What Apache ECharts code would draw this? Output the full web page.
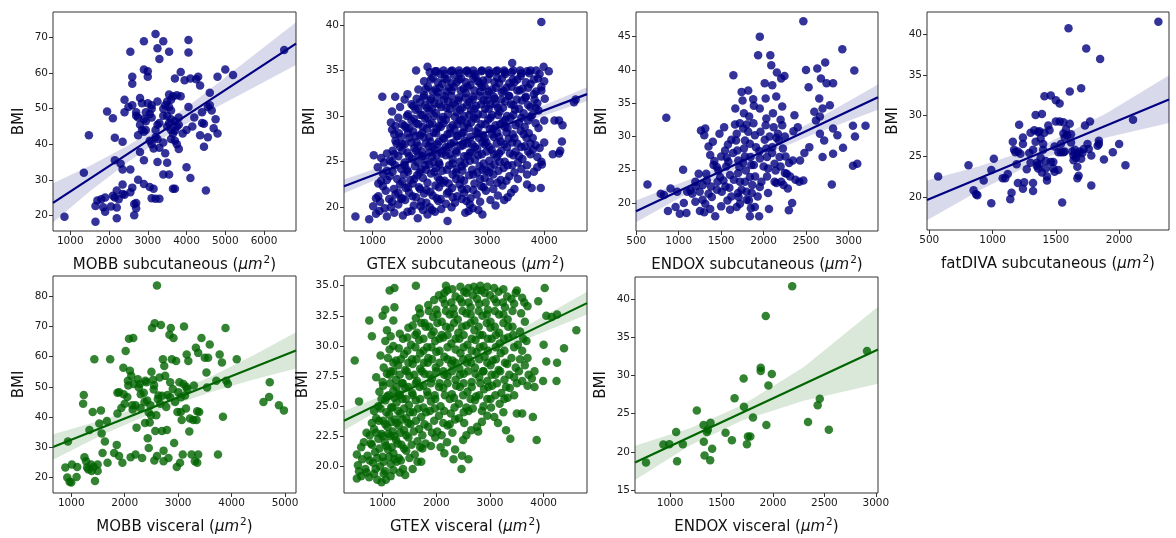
<!DOCTYPE html>
<html><head><meta charset="utf-8">
<script src="https://cdn.jsdelivr.net/npm/echarts@6/dist/echarts.min.js"></script>
<style>html,body{margin:0;padding:0;background:#fff}#c{width:1176px;height:538px}</style>
</head><body><div id="c"></div>
<script>
// ---------------- data ----------------
const mobbSub = [[3200,71],[2900,69],[3400,69],[4050,69.3],[3250,67],[2550,66],[3550,66],[4050,65.8],[3300,64],
[2600,59],[2600,57],[2900,61],[3000,60.5],[3000,59],[3850,60.3],[3700,58.5],[3950,58],[4100,58.5],[4300,59],[4250,58.3],[4350,56.5],[5000,61],[5200,59.5],[4800,59],[6520,66.5],
[2400,52.5],[2500,50.5],[2800,53],[2850,51.5],[3000,51.5],[3100,51],[3250,52],[3500,52],[3550,54],[3650,53.5],[3750,53.8],[3450,51],[3550,50.5],[3600,49.5],[3100,50],[2950,49],[3100,47.5],[3050,48.5],[2700,48],[2750,47.5],[2950,46.5],[3500,48],[3600,47],[3550,46],[3700,46.5],[3750,45],[3800,47.5],[4050,50.5],[4200,47.5],[4400,49],[4600,54.5],[4600,51],[4550,50.5],[4650,49.5],[4750,47],[4400,46],[4450,45.8],[4700,44.5],[4800,43],[4550,42],[4350,42.5],[4450,39.3],[4000,44],[4150,45],[3900,43],
[1950,49.2],[2100,47.3],[2400,49],[1480,42.5],[2150,41.8],[2350,40.7],[2800,45.5],[2850,44],[2750,42.5],[2900,43.5],[2950,44],[3050,41],[3200,44],[3100,40],[3250,41.5],[3150,38.8],[3300,39],[3450,37.5],[3650,43],[3700,41],[3600,41.5],[3750,40],[3800,38.7],[2800,37.8],[2900,35.5],[3250,35],[3500,34.8],[3400,31.5],[3550,31.5],[3650,27.5],[3700,27.5],[4000,33.5],[4100,30.5],[4500,27],
[2150,35.5],[2300,34.5],[2350,32.9],[2550,32.9],[1350,32],[2750,30],[2900,28.8],[3050,28],[3150,27.5],[3100,24.8],[3200,24.7],[3300,24.7],[2350,28.7],[2400,25.8],[2550,26.5],[2600,27.8],[2700,23.5],[2650,23.2],[2700,22],[2650,20],[2200,27],[2100,25.5],[2150,25],[2250,24.5],[2050,22.5],[1900,25],[1800,24.5],[1700,24.2],[1650,22.6],[1650,18.2],[1850,22.3],[1900,21],[2200,19.2],[2200,22.2],[2350,26],[850,19.6],
[3300,46],[3400,48],[3500,45],[3600,44],[3700,43.8],[3200,42],[3400,40.5],[3250,45.5],[2900,47],[3600,52.5],[3400,50],[2600,51],[2700,49],[3850,53.5],[3800,45.5]];

const gtexSub = [[1060,19.3],[1250,19.0],[1380,19.4],[1530,19.1],[1680,19.6],[1790,18.8],[1880,19.7],[1960,19.2],[2090,19.5],[2200,19.8],[2310,18.5],[2620,19.4],[2750,19.9],[2850,19.7],[2920,19.2],[700,19.0],[940,18.7],
[1010,20.1],[1130,20.6],[1210,19.9],[1450,20.3],[1570,20.8],[1720,20.2],[1850,20.6],[2000,20.0],[2150,20.7],[2280,20.4],[2440,20.5],[2560,20.9],[2700,20.3],[3060,20.8],[3150,20.2],
[1100,21.2],[1290,20.9],[1400,21.4],[1520,21.0],[1640,21.6],[1760,21.1],[1900,21.5],[2050,21.3],[2190,20.9],[2330,21.7],[2480,21.2],[2600,21.6],[2710,21.0],[2820,21.4],[2980,21.8],[3190,21.3],[3360,21.1],
[1180,22.3],[1370,22.0],[1480,22.5],[1580,22.1],[1700,22.6],[1810,22.2],[1940,21.9],[2100,22.4],[2230,22.7],[2390,22.1],[2520,22.5],[2650,22.0],[2780,22.6],[2900,22.3],[3050,22.8],[3270,22.4],[3480,22.0],[3780,22.1],[3940,22.1],
[1150,22.9],[1300,23.4],[1430,23.1],[1550,23.6],[1660,23.0],[1780,23.5],[1880,23.2],[2020,23.7],[2140,23.3],[2260,22.9],[2400,23.6],[2540,23.1],[2690,23.5],[2830,23.8],[2960,23.2],[3110,23.6],[3240,23.0],[3390,23.4],[3540,23.1],
[1090,24.4],[1250,24.0],[1390,24.6],[1500,24.2],[1620,23.9],[1740,24.5],[1850,24.1],[1990,24.7],[2110,24.3],[2220,24.0],[2340,24.6],[2470,24.2],[2610,24.8],[2740,24.1],[2870,24.5],[2990,24.0],[3130,24.7],[3290,24.3],[3440,24.6],[3600,24.2],[3820,23.9],[3960,24.7],
[1020,25.7],[1150,25.4],[1300,25.1],[1450,25.6],[1560,24.9],[1690,25.3],[1800,25.8],[1920,25.2],[2040,25.5],[2160,24.9],[2280,25.7],[2400,25.3],[2530,25.0],[2660,25.6],[2790,25.2],[2910,25.8],[3040,25.1],[3170,25.5],[3310,25.0],[3460,25.7],[3620,25.3],[3760,25.8],[3950,25.0],
[1350,26.2],[1480,26.6],[1610,26.0],[1730,26.5],[1860,26.1],[1980,26.7],[2090,26.3],[2210,25.9],[2330,26.6],[2460,26.2],[2580,26.8],[2700,26.0],[2830,26.4],[2960,26.9],[3080,26.3],[3210,25.9],[3350,26.6],[3500,26.1],[3660,26.7],[3800,26.3],[4150,25.8],[4260,25.9],[4280,26.2],
[1400,27.3],[1520,26.9],[1640,27.6],[1770,27.1],[1890,27.7],[2010,27.2],[2130,26.9],[2250,27.5],[2370,27.0],[2490,27.8],[2610,27.3],[2740,26.9],[2860,27.6],[2990,27.1],[3120,27.7],[3240,27.2],[3380,27.5],[3530,27.0],[3690,27.6],[3850,26.8],[4000,27.1],[4310,27.2],
[1340,28.5],[1460,28.1],[1590,28.7],[1710,28.3],[1830,27.9],[1950,28.6],[2070,28.2],[2190,28.8],[2310,28.0],[2430,28.5],[2560,28.1],[2680,28.7],[2800,28.3],[2930,27.9],[3050,28.6],[3180,28.2],[3310,28.8],[3450,28.0],[3590,28.4],[3730,28.1],[3900,28.7],
[1320,29.3],[1560,28.9],[1680,29.5],[1800,29.1],[1920,29.7],[2040,29.2],[2160,28.9],[2280,29.6],[2400,29.0],[2520,29.5],[2650,29.2],[2770,29.8],[2900,29.1],[3020,29.6],[3150,29.0],[3280,29.4],[3410,29.8],[3560,29.2],[3720,29.5],[4180,29.5],[4260,29.5],[4320,29.0],
[1340,30.5],[1620,30.2],[1750,30.7],[1870,30.1],[1990,30.6],[2110,30.3],[2230,29.9],[2350,30.8],[2470,30.4],[2600,30.0],[2720,30.6],[2840,30.2],[2970,30.8],[3090,30.1],[3220,30.5],[3350,30.0],[3490,30.7],[3640,30.3],[3790,30.1],[3900,30.6],
[1710,31.1],[1830,31.5],[1950,30.9],[2080,31.4],[2200,31.0],[2320,31.6],[2440,31.2],[2570,30.9],[2690,31.5],[2810,31.1],[2940,31.7],[3060,31.3],[3190,30.9],[3320,31.6],[3460,31.2],[3610,31.7],[3760,31.0],[3880,31.4],[4520,31.5],[4550,31.8],
[1170,32.1],[1395,32.1],[1610,32.4],[1900,32.3],[2020,31.9],[2140,32.6],[2260,32.2],[2380,32.8],[2510,32.0],[2630,32.5],[2750,32.1],[2880,32.7],[3000,32.3],[3130,31.9],[3260,32.6],[3390,32.2],[3530,32.8],[3670,32.0],[3820,32.4],[3950,32.8],
[1970,33.2],[2100,32.9],[2220,33.5],[2340,33.1],[2470,33.7],[2590,33.0],[2710,33.4],[2840,33.8],[2960,33.2],[3090,32.9],[3210,33.6],[3340,33.1],[3480,33.7],[3620,33.0],[3760,33.5],[3950,33.2],
[2050,34.2],[2180,34.6],[2300,34.0],[2420,34.5],[2550,34.1],[2680,34.7],[2800,34.3],[2930,33.9],[3050,34.6],[3180,34.2],[3310,34.8],[3450,34.0],[3590,34.4],[3740,34.7],[3890,34.1],
[1760,35.0],[1960,35.4],[2000,34.8],[2090,34.9],[2240,35.0],[2370,34.9],[2510,35.0],[2640,34.9],[2760,35.0],[2900,34.9],[3030,35.0],[3160,34.9],[3300,35.0],[3430,34.8],[3580,35.0],[3700,34.9],[3860,35.0],[4080,34.9],[3990,35.4],[3440,35.8],[3950,40.3],
[1120,19.6],[1320,20.0],[1610,19.5],[1840,20.1],[2040,19.7],[2380,20.0],[2680,19.6],
[1060,21.0],[1340,20.6],[1500,20.9],[1700,21.2],[1940,20.5],[2120,21.0],[2400,21.1],[2640,20.7],[2880,20.6],[3300,20.8],
[1230,21.8],[1450,21.6],[1620,22.2],[1830,22.0],[2010,21.7],[2160,22.2],[2300,21.5],[2560,22.0],[2760,21.9],[2940,22.2],[3110,22.0],[3420,21.6],
[1100,22.6],[1250,23.0],[1520,22.8],[1730,23.1],[1960,22.7],[2180,23.0],[2330,22.6],[2460,23.1],[2600,22.9],[2880,23.1],[3180,22.7],[3340,22.9],[3700,22.5],
[1180,23.7],[1350,23.9],[1600,24.1],[1820,23.8],[1930,24.1],[2080,23.9],[2300,24.1],[2460,23.8],[2570,24.0],[2760,23.6],[2920,24.1],[3040,23.8],[3200,24.0],[3480,23.8],[3700,23.6],
[1200,24.9],[1340,25.0],[1560,24.6],[1790,24.9],[1920,24.6],[2060,25.0],[2170,24.7],[2400,24.8],[2560,24.5],[2700,25.1],[2940,24.8],[3060,24.4],[3220,25.0],[3360,24.6],[3540,24.9],[3700,24.6],[3880,24.4],
[1250,25.9],[1380,25.8],[1520,26.2],[1640,25.6],[1760,26.2],[1870,25.6],[1990,26.0],[2120,25.7],[2220,26.2],[2350,25.8],[2470,26.0],[2600,25.6],[2730,26.0],[2850,25.7],[2990,26.1],[3120,25.8],[3250,26.2],[3400,25.9],[3560,25.6],[3720,26.1],[3880,25.5],
[1420,27.0],[1560,26.9],[1680,27.1],[1800,26.7],[1930,27.0],[2050,26.6],[2160,27.2],[2280,26.6],[2420,27.1],[2540,26.7],[2660,27.0],[2790,26.6],[2920,27.1],[3040,26.6],[3170,27.0],[3300,26.9],[3440,27.1],[3600,26.6],[3760,27.0],[3920,26.5],
[1380,28.0],[1500,27.7],[1620,28.1],[1750,27.8],[1870,28.2],[1990,27.7],[2110,28.1],[2230,27.6],[2350,28.1],[2470,27.8],[2590,28.2],[2710,27.7],[2840,28.1],[2960,27.6],[3090,28.0],[3210,27.7],[3340,28.2],[3480,27.6],[3640,28.0],[3800,27.6],
[1400,28.9],[1520,29.1],[1640,28.7],[1760,29.2],[1880,28.8],[2000,29.1],[2120,28.6],[2240,29.2],[2360,28.7],[2480,29.1],[2600,28.8],[2720,29.3],[2850,28.7],[2970,29.1],[3100,28.6],[3230,29.1],[3360,28.7],[3500,29.0],[3660,28.8],[3850,29.2],
[1450,29.8],[1600,30.0],[1720,29.7],[1840,30.1],[1960,29.8],[2080,30.0],[2200,29.6],[2320,30.2],[2440,29.9],[2560,29.6],[2690,30.1],[2810,29.7],[2930,30.2],[3060,29.8],[3190,30.1],[3320,29.6],[3460,30.1],[3600,29.8],[3760,29.9],[4000,29.5],
[1480,31.0],[1680,31.3],[1800,30.8],[1920,31.2],[2040,30.8],[2160,31.3],[2290,30.9],[2410,31.4],[2530,30.7],[2650,31.2],[2780,30.8],[2900,31.3],[3030,30.8],[3150,31.3],[3280,30.9],[3420,31.3],[3560,30.8],[3720,31.2],[3850,30.9],
[1560,31.8],[1770,31.9],[1890,32.1],[2010,31.7],[2130,32.1],[2250,31.8],[2380,32.2],[2500,31.7],[2620,32.0],[2750,31.8],[2870,32.2],[3000,31.7],[3120,32.1],[3250,31.8],[3380,32.2],[3520,31.8],[3680,32.1],[3830,31.8],[4010,31.9],
[1800,32.9],[1930,33.0],[2050,32.7],[2170,33.1],[2290,32.7],[2420,33.2],[2540,32.8],[2660,33.2],[2780,32.8],[2910,33.2],[3030,32.7],[3160,33.1],[3290,32.8],[3430,33.2],[3570,32.8],[3720,33.1],[3860,32.7],
[1900,33.8],[2020,34.0],[2140,33.7],[2260,34.1],[2380,33.6],[2510,34.0],[2630,33.7],[2760,34.1],[2880,33.6],[3010,34.0],[3130,33.7],[3260,34.1],[3390,33.6],[3530,34.0],[3680,33.7],[3820,34.0],[4000,33.8],
[2120,34.9],[2260,34.6],[2390,35.0],[2520,34.7],[2650,35.0],[2780,34.6],[2910,35.0],[3040,34.7],[3180,35.0],[3320,34.6],[3460,35.0],[3600,34.7],[3760,35.0],[3920,34.6]];

const endoxSub = [[632,22.8],[854,32.8],[788,21.4],[904,22.2],[873,18.8],[963,19.4],[1013,18.4],[1091,18.5],[1060,20],[1052,25],[827,21.2],[982,21.7],[1138,21.9],[1196,23.2],[1235,24.4],[1247,21.7],[1196,20.2],[1262,30.9],[1313,31.2],[1301,30.2],[1351,28.5],[1371,27.2],[1402,29.2],[1313,19.9],[1301,18.6],[1371,19.1],[1430,18],[1351,21.4],[1390,20.9],[1332,23.4],[1285,22.7],[1324,24.4],[1410,25.7],[1449,25.4],[1468,24.9],[1488,23.9],[1457,23.2],[1527,23.4],[1507,21.7],[1480,30.4],[1535,31.4],[1546,27.9],[1566,26.8],[1585,26.2],[1605,24.2],[1597,22.3],[1574,20.4],[1605,19],[1644,39.2],[1667,34.2],[1663,31.8],[1683,30.4],[1675,29.4],[1690,27.9],[1702,26.4],[1714,25.4],[1721,23.2],[1706,20.9],[1721,19.9],[1683,19.4],[1741,36.7],[1752,35.4],[1768,33.5],[1760,31.2],[1780,29.4],[1768,28.2],[1780,27],[1791,24.9],[1780,23.2],[1799,21.7],[1819,36.9],[1830,33],[1819,30.7],[1838,28.9],[1846,26.9],[1855,25.7],[1838,23.9],[1866,22.7],[1827,20.4],[1838,18],[1877,35.6],[1885,34.6],[1897,30.2],[1909,28.4],[1885,25.7],[1897,19.4],[1947,18],[1955,45],[1935,42.2],[1955,34.2],[1963,30.7],[1955,26.7],[1974,23.2],[1955,22.4],[2013,38],[2024,35.7],[2032,32.7],[2024,31.7],[2013,29.5],[2032,28.2],[2040,26.9],[2052,25.2],[2040,24],[2052,21.5],[2063,19.1],[2079,42.2],[2090,40.7],[2102,37.7],[2110,33.5],[2118,31.4],[2102,28.4],[2129,25.9],[2141,24.9],[2129,23.2],[2149,36],[2156,39.6],[2168,30.4],[2180,29.4],[2188,26.9],[2207,38.7],[2219,34.5],[2219,31.7],[2227,28.2],[2207,23.2],[2234,22.7],[2246,39.1],[2258,27],[2273,24.4],[2285,22.2],[2297,18.9],[2336,20],[2312,24],[2344,26.4],[2351,30.8],[2363,33.2],[2375,23.5],[2402,31.4],[2421,23.2],[2429,26.4],[2468,47.3],[2468,23.4],[2480,27.5],[2499,40],[2530,37.4],[2538,28.4],[2597,33.7],[2616,32.4],[2632,40.2],[2655,35.7],[2663,33],[2675,38.7],[2663,30.4],[2694,26.9],[2713,29.4],[2694,34.2],[2725,41.1],[2741,38],[2780,34.7],[2803,22.8],[2818,38],[2818,31.2],[2818,27.4],[2869,30.2],[2927,43.1],[2935,28.3],[3052,31.6],[3068,39.9],[3076,30],[3052,25.6],[3103,25.9],[3200,31.6],
[1420,26.3],[1500,27.0],[1550,22.5],[1620,21.0],[1650,23.5],[1700,24.5],[1740,22.0],[1800,20.5],[1860,21.5],[1900,24.0],[1500,19.5],[1250,18.8],[1450,22.0],[1560,25.5],[1640,27.5],[1760,26.0],[1700,21.5],[1850,19.2],[1930,21.0],[1950,27.8],[2000,25.5],[2100,27.5],[2150,23.0],[2200,25.5],[2250,24.5],[2300,26.0],[1620,29.5],[1580,28.8],[1720,32.0],[1800,31.8],[1880,32.0],[2070,30.0],[2150,29.8],[2250,30.0],[2200,32.5],[1160,21.4],[1100,21.7],[1200,22.5],[1280,20.5],[1380,22.5]];

const fatdivaSub = [[570,22.5],[810,23.9],[850,20.8],[870,20.3],[880,20.2],[990,19.2],[1010,24.7],[990,23.3],[930,22.0],[1080,22.3],[1100,22.3],[1120,22.8],[1150,20.5],[1140,19.7],[1160,26.8],[1170,25.8],[1190,24.0],[1210,28.9],[1220,25.3],[1200,21.7],[1240,27.3],[1240,26.5],[1250,21.8],[1240,21.0],[1270,23.4],[1290,25.4],[1300,27.9],[1320,25.8],[1320,21.7],[1320,20.7],[1330,28.2],[1340,30.1],[1340,26.8],[1350,24.2],[1350,23.8],[1360,23.5],[1370,28.1],[1380,27.2],[1390,30.2],[1380,24.8],[1370,24.0],[1390,23.0],[1400,26.5],[1400,25.8],[1410,32.4],[1420,24.4],[1420,23.5],[1430,22.5],[1430,22.0],[1440,28.8],[1450,28.2],[1460,32.5],[1460,24.3],[1480,24.3],[1480,23.5],[1490,23.1],[1490,26.2],[1500,29.3],[1500,31.9],[1520,25.5],[1530,31.5],[1530,29.3],[1540,26.5],[1540,25.5],[1550,19.3],[1560,29.2],[1560,27.8],[1570,27.3],[1570,25.6],[1580,28.3],[1590,27.6],[1600,40.8],[1610,33.0],[1610,29.0],[1620,27.7],[1620,26.7],[1630,25.6],[1640,25.1],[1640,24.5],[1650,25.8],[1660,24.8],[1670,25.3],[1670,23.7],[1670,22.3],[1680,22.6],[1690,25.6],[1700,33.4],[1700,24.7],[1710,25.4],[1720,25.9],[1730,28.8],[1740,38.3],[1750,26.5],[1760,25.9],[1770,29.3],[1780,25.1],[1780,21.4],[1830,26.3],[1840,26.5],[1840,26.9],[1850,37.0],[1880,24.6],[1950,25.5],[2000,26.5],[2050,23.9],[2110,29.5],[2310,41.6],[1200,25.6],[1180,25.5],[1300,24.2],[1360,28.0],[1410,27.9],[1520,23.3],[1560,25.5]];

const mobbVisc = [[889,23.3],[926,20],[938,31.9],[969,18.6],[1000,18.4],[1012,24.3],[1111,23.5],[1099,20.2],[1234,47.3],[1222,44.4],[1247,26.7],[1278,25.4],[1296,23.3],[1321,22.7],[1340,35.7],[1370,24.3],[1383,22.2],[1401,41.7],[1420,23.5],[1432,59.1],[1444,18.9],[1494,24.3],[1494,22.2],[1525,37.9],[1555,42.2],[1568,34.6],[1586,28.1],[1630,31.9],[1666,38.7],[1679,24.9],[1728,59.1],[1802,28.1],[1851,30.8],[1864,41.2],[1864,48],[1895,48.2],[1895,27.1],[1938,43],[1957,24.9],[1975,56.3],[2000,44.4],[2018,61.8],[2049,46.6],[2067,50.4],[2098,55.3],[2080,65.9],[2123,53.6],[2160,66.1],[2111,26.7],[2141,43.9],[2172,50.9],[2203,43.9],[2203,27.6],[2222,36.5],[2246,52.5],[2264,49.8],[2283,50.9],[2296,43],[2326,26.5],[2357,48],[2370,45],[2388,52],[2406,51.5],[2431,33],[2450,29.8],[2468,38.2],[2481,43.9],[2493,40.6],[2511,69.4],[2530,52.3],[2543,49.1],[2555,25.6],[2561,71],[2592,40.6],[2573,35.4],[2604,83.5],[2604,27.1],[2635,47.1],[2653,53.1],[2666,44.4],[2678,70.4],[2697,35.4],[2715,59.1],[2727,25.4],[2727,28.9],[2740,56.9],[2758,53.6],[2777,43.3],[2789,35.7],[2801,47.3],[2820,26.5],[2838,67.2],[2851,51.5],[2863,69.4],[2882,59.1],[2900,49.3],[2913,66.1],[2925,31.4],[2944,45],[2962,58.5],[2974,23.5],[2987,41.7],[3005,48.2],[3024,51.5],[3036,24.9],[3049,41.7],[3067,39],[3086,27.6],[3098,50.9],[3110,69.9],[3129,47.1],[3147,42.8],[3160,60.7],[3172,49.3],[3191,58.5],[3209,35.2],[3221,39.5],[3252,27.6],[3283,39],[3295,50.4],[3314,25.4],[3332,62.9],[3345,39],[3357,41.9],[3375,27.6],[3357,24.9],[3375,61.2],[3394,41.7],[3437,66.1],[3499,59.6],[3530,54.7],[3542,49.8],[3561,59.6],[3592,64],[3746,27.6],[3715,52],[3777,60.7],[3820,58],[3839,40.1],[3887,69.4],[3900,52],[3931,50.9],[4097,59.1],[4597,45],[4703,46.6],[4715,51.5],[4887,43.9],[4980,42.2],
[2300,47.5],[2420,45.5],[2550,50.5],[2450,41.5],[2380,38.0],[2620,46.0],[2150,42.5],[2060,52.0],[1980,47.5],[2500,55.0],[2700,47.0],[2850,46.5],[3050,46.5],[3150,50.0]];

const gtexVisc = [[520,19.0],[600,19.2],[750,19.1],[900,18.9],[980,18.7],[1060,18.9],[1150,19.2],[1420,19.3],[840,19.4],
[540,20.1],[680,19.8],[820,20.3],[950,20.0],[1050,19.6],[1150,20.2],[1260,20.4],[1380,19.8],[1560,19.8],[1720,20.4],[2470,19.8],
[520,21.0],[720,20.9],[860,21.2],[1000,20.8],[1100,21.4],[1200,21.1],[1300,20.7],[1440,21.3],[1600,21.0],[1740,21.5],[2150,21.1],[2320,20.6],[2600,20.6],[2480,20.9],
[650,22.0],[780,21.9],[920,22.3],[1040,22.0],[1140,22.5],[1250,22.2],[1350,21.8],[1480,22.4],[1650,22.1],[1800,21.9],[1980,22.4],[2200,22.0],[2500,22.2],[3870,22.2],[2350,21.4],
[700,22.8],[840,23.1],[980,22.7],[1090,23.3],[1190,22.9],[1300,23.4],[1400,23.0],[1520,23.5],[1680,23.1],[1850,23.3],[2020,22.9],[2210,23.4],[2650,23.0],[2780,22.9],[3300,23.0],[3380,22.3],[2760,23.3],
[880,24.0],[1010,23.8],[1120,24.3],[1230,23.9],[1330,24.4],[1440,24.0],[1570,24.5],[1720,24.1],[1880,24.6],[2050,24.2],[2270,24.4],[2420,24.0],[2600,24.6],[2950,24.2],[3080,24.1],[3500,24.4],[3600,24.4],[3800,24.1],[2250,23.5],
[560,25.4],[920,25.0],[1050,25.5],[1160,24.9],[1260,25.3],[1370,25.6],[1490,25.1],[1620,25.5],[1760,24.9],[1900,25.4],[2080,25.0],[2250,25.6],[2420,25.2],[2560,24.9],[2720,25.5],[2880,25.0],[3010,25.6],[3180,25.2],[3330,25.7],
[940,26.2],[1080,25.8],[1200,26.3],[1310,26.0],[1420,26.5],[1550,26.1],[1690,26.6],[1830,26.2],[1970,25.9],[2130,26.5],[2290,26.0],[2440,26.6],[2580,26.2],[2740,25.8],[2890,26.4],[3040,26.7],[3210,26.1],[3370,26.5],[3830,26.6],
[880,27.4],[1000,27.0],[1130,27.6],[1250,27.2],[1370,26.9],[1500,27.5],[1640,27.1],[1780,27.7],[1920,27.3],[2060,26.9],[2210,27.5],[2360,27.2],[2510,27.7],[2660,27.0],[2800,27.4],[2950,27.1],[3100,27.6],[3270,27.2],[3450,27.4],[3600,27.1],[3780,27.3],[3990,27.1],[4240,27.1],
[1020,28.2],[1150,27.9],[1290,28.4],[1420,28.0],[1560,28.5],[1700,28.1],[1840,28.6],[1990,28.2],[2130,27.9],[2280,28.5],[2430,28.1],[2570,28.6],[2720,28.2],[2870,27.9],[3010,28.4],[3160,28.0],[3320,28.5],[3480,28.2],[3650,28.4],[3830,27.9],
[480,28.8],[1100,29.0],[1250,28.8],[1400,29.3],[1550,28.9],[1700,29.4],[1850,29.0],[2000,29.5],[2150,29.1],[2300,28.8],[2450,29.4],[2600,29.0],[2750,29.5],[2900,29.1],[3050,28.8],[3200,29.4],[3400,29.0],[3700,29.0],[4050,28.7],[4250,28.6],[960,29.2],
[1050,30.4],[1200,30.0],[1380,30.6],[1530,30.1],[1680,30.5],[1830,29.9],[1980,30.4],[2130,30.7],[2280,30.2],[2430,30.6],[2580,30.1],[2730,30.5],[2880,30.0],[3030,30.6],[3180,30.2],[3340,30.7],[3520,30.1],[3680,30.4],[4000,30.1],[4380,29.8],
[800,30.8],[1080,31.3],[1320,31.0],[1480,31.5],[1640,31.1],[1800,31.6],[1950,31.2],[2100,30.9],[2260,31.5],[2410,31.1],[2560,31.7],[2710,31.3],[2860,30.9],[3010,31.5],[3170,31.1],[3340,31.6],[3560,31.2],[4610,31.3],
[750,32.1],[1000,32.5],[1200,32.1],[1620,32.3],[1780,31.9],[1940,32.4],[2100,32.0],[2250,32.6],[2400,32.2],[2560,32.7],[2710,32.1],[2860,32.5],[3010,32.0],[3170,32.6],[3330,32.2],[3650,32.0],[4050,32.5],[4250,32.6],[4150,32.4],
[1220,33.2],[1050,33.0],[1680,33.1],[1850,33.4],[2000,33.0],[2160,33.5],[2320,33.1],[2480,33.6],[2640,33.2],[2800,33.5],[2960,33.0],[3120,33.6],[3280,33.2],[3450,33.5],[3700,33.3],[3900,33.7],[3640,33.6],
[1130,34.6],[1220,34.8],[2050,34.2],[2200,34.6],[2360,34.1],[2520,34.5],[2680,34.2],[2840,34.6],[3000,34.2],[3160,34.5],[3320,34.1],[3480,34.4],[3600,34.0],
[1620,35.0],[2180,35.0],[2450,34.9],[2700,34.9],[2820,35.0],[2950,34.9],[3080,34.8],[4020,34.8],[2600,34.8],
[560,19.6],[700,19.5],[870,19.8],[1020,19.4],[1200,19.7],[1320,19.5],
[620,20.6],[760,20.5],[900,20.7],[1020,20.4],[1120,20.8],[1220,20.6],[1340,20.5],[1500,20.7],[1650,20.4],
[600,21.6],[800,21.8],[940,21.5],[1070,21.7],[1170,21.6],[1280,21.9],[1400,21.5],[1540,21.8],[1700,21.6],[1900,21.7],[2080,21.6],
[760,22.6],[880,22.8],[1000,22.5],[1110,22.7],[1220,22.5],[1330,22.8],[1440,22.6],[1580,22.9],[1740,22.6],[1920,22.8],[2100,22.6],[2300,22.8],[2560,22.6],
[800,23.6],[930,23.8],[1050,23.5],[1160,23.7],[1260,23.6],[1370,23.9],[1480,23.6],[1620,23.8],[1780,23.5],[1960,23.8],[2130,23.6],[2350,23.9],[2520,23.6],[2850,23.7],[3150,23.6],
[840,24.6],[960,24.8],[1070,24.5],[1180,24.9],[1290,24.6],[1400,24.8],[1510,24.5],[1660,24.8],[1810,24.5],[1970,24.8],[2150,24.6],[2340,24.9],[2510,24.5],[2680,24.8],[2850,24.6],[3020,24.9],[3250,24.5],
[980,25.6],[1110,25.9],[1220,25.7],[1320,25.9],[1430,25.6],[1560,25.9],[1700,25.6],[1840,25.9],[1980,25.6],[2160,25.9],[2330,25.7],[2500,25.9],[2640,25.6],[2800,25.9],[2950,25.6],[3100,25.9],[3270,25.6],[3450,25.9],
[1010,26.7],[1140,26.9],[1260,26.6],[1370,26.9],[1480,26.6],[1620,26.9],[1760,26.7],[1900,26.9],[2050,26.6],[2210,26.9],[2370,26.7],[2510,26.9],[2660,26.6],[2820,26.9],[2970,26.6],[3130,26.9],[3300,26.6],[3500,26.9],[3700,26.7],
[1080,27.7],[1200,27.9],[1320,27.6],[1450,27.9],[1590,27.6],[1730,27.9],[1870,27.6],[2000,27.9],[2150,27.6],[2290,27.9],[2440,27.6],[2590,27.9],[2730,27.7],[2880,27.9],[3030,27.6],[3190,27.9],[3360,27.6],[3540,27.9],[3720,27.6],
[1200,28.6],[1340,28.9],[1480,28.6],[1630,28.9],[1770,28.6],[1920,28.9],[2060,28.6],[2210,28.9],[2360,28.6],[2500,28.9],[2650,28.6],[2800,28.9],[2950,28.6],[3110,28.9],[3280,28.6],[3560,28.9],
[1130,29.7],[1300,29.8],[1460,29.6],[1610,29.9],[1760,29.6],[1910,29.9],[2060,29.6],[2210,29.9],[2360,29.7],[2510,29.9],[2660,29.6],[2810,29.9],[2960,29.6],[3110,29.9],[3270,29.6],[3450,29.9],[3600,29.6],
[1150,30.8],[1460,30.7],[1610,30.9],[1760,30.6],[1910,30.9],[2060,30.6],[2210,30.9],[2360,30.6],[2510,30.9],[2660,30.6],[2810,30.9],[2960,30.6],[3110,30.9],[3260,30.6],[3430,30.9],[3620,30.6],
[1560,31.7],[1720,31.9],[1870,31.6],[2020,31.9],[2180,31.6],[2330,31.9],[2480,31.6],[2640,31.9],[2790,31.6],[2940,31.9],[3090,31.6],[3250,31.9],[3420,31.6],
[1700,32.7],[1860,32.9],[2020,32.6],[2180,32.9],[2330,32.6],[2490,32.9],[2640,32.6],[2790,32.9],[2940,32.6],[3090,32.9],[3250,32.6],[3420,32.9],[3580,32.7],
[1960,33.8],[2120,33.9],[2280,33.6],[2440,33.9],[2600,33.6],[2760,33.9],[2920,33.6],[3080,33.9],[3240,33.6],[3400,33.9],
[2150,34.4],[2300,34.7],[2560,34.4],[2760,34.6],[2900,34.4],[3250,34.7],[3500,34.6]];

const endoxVisc = [[766,18.6],[935,20.95],[993,21.0],[1059,22.6],[1068,18.75],[1124,21.0],[1260,25.4],[1325,23.5],[1328,21.3],[1335,19.5],[1358,22.6],[1367,22.9],[1390,18.9],[1393,23.8],[1409,20.4],[1539,22.5],[1601,21.5],[1627,27.0],[1715,29.6],[1718,25.9],[1747,21.0],[1757,22.0],[1780,22.0],[1806,24.5],[1881,31.0],[1881,30.6],[1930,37.8],[1936,23.5],[1956,28.7],[1989,30.2],[2187,41.7],[2341,23.9],[2435,26.1],[2455,26.95],[2543,22.9],[2914,33.2]];

// regression lines (end points) and confidence bands [x, low, high]
const mobbSubFit = [[554,23.5],[6825,68.3]];
const mobbSubBand = [[554,18.0,29.0],[1500,26.7,33.9],[2500,35.1,39.7],[3300,41.1,45.1],[4200,47.1,52.0],[5200,52.9,60.5],[6825,62.3,74.3]];
const gtexSubFit = [[500,22.3],[4748,32.4]];
const gtexSubBand = [[500,21.55,23.05],[1500,24.2,25.2],[2600,26.95,27.65],[3600,29.2,30.15],[4748,31.65,33.15]];
const endoxSubFit = [[497,18.75],[3347,35.9]];
const endoxSubBand = [[497,17.1,20.4],[1200,22.1,23.9],[1900,26.6,27.8],[2600,30.4,32.4],[3347,34.0,37.8]];
const fatdivaSubFit = [[482,19.6],[2394,32.0]];
const fatdivaSubBand = [[482,17.1,22.0],[900,20.8,23.8],[1400,24.75,26.35],[1900,27.3,30.3],[2394,29.1,35.0]];
const mobbViscFit = [[658,30.1],[5206,62.0]];
const mobbViscBand = [[658,25.9,34.3],[1600,34.3,39.1],[2600,41.9,45.5],[3600,48.2,53.2],[4400,52.3,60.3],[5206,56.0,68.0]];
const gtexViscFit = [[280,23.8],[4808,33.55]];
const gtexViscBand = [[280,23.0,24.6],[1300,25.6,26.4],[2300,27.85,28.45],[3300,29.9,30.7],[4808,32.6,34.5]];
const endoxViscFit = [[659,18.6],[3021,33.4]];
const endoxViscBand = [[659,16.3,20.8],[1200,20.9,23.1],[1700,24.1,26.1],[2300,26.7,31.1],[3021,28.9,39.0]];

// tick labels
const mobbSubXTicks = [1000,2000,3000,4000,5000,6000];
const mobbSubYTicks = [20,30,40,50,60,70];
const gtexSubXTicks = [1000,2000,3000,4000];
const gtexSubYTicks = [20,25,30,35,40];
const endoxSubXTicks = [500,1000,1500,2000,2500,3000];
const endoxSubYTicks = [20,25,30,35,40,45];
const fatdivaSubXTicks = [500,1000,1500,2000];
const fatdivaSubYTicks = [20,25,30,35,40];
const mobbViscXTicks = [1000,2000,3000,4000,5000];
const mobbViscYTicks = [20,30,40,50,60,70,80];
const gtexViscXTicks = [1000,2000,3000,4000];
const gtexViscYTicks = [20,22.5,25,27.5,30,32.5,35];
const endoxViscXTicks = [1000,1500,2000,2500,3000];
const endoxViscYTicks = [15,20,25,30,35,40];

const xNames = ['MOBB subcutaneous','GTEX subcutaneous','ENDOX subcutaneous','fatDIVA subcutaneous','MOBB visceral','GTEX visceral','ENDOX visceral'];

// ---------------- layout / styling ----------------
const NAVY = '#000080', GREEN = '#006400';
const FONT = 'DejaVu Sans';
const panels = [
  {data:mobbSub, fit:mobbSubFit, band:mobbSubBand, xt:mobbSubXTicks, yt:mobbSubYTicks, xr:[554,6825], yr:[15.6,77.2], color:NAVY, left:53, top:12, w:243, h:219, dec:0},
  {data:gtexSub, fit:gtexSubFit, band:gtexSubBand, xt:gtexSubXTicks, yt:gtexSubYTicks, xr:[500,4748], yr:[17.4,41.4], color:NAVY, left:344, top:12, w:243, h:219, dec:0},
  {data:endoxSub, fit:endoxSubFit, band:endoxSubBand, xt:endoxSubXTicks, yt:endoxSubYTicks, xr:[497,3347], yr:[15.8,48.7], color:NAVY, left:636, top:12, w:242, h:219, dec:0},
  {data:fatdivaSub, fit:fatdivaSubFit, band:fatdivaSubBand, xt:fatdivaSubXTicks, yt:fatdivaSubYTicks, xr:[482,2394], yr:[15.9,42.8], color:NAVY, left:927, top:12, w:242, h:218, dec:0},
  {data:mobbVisc, fit:mobbViscFit, band:mobbViscBand, xt:mobbViscXTicks, yt:mobbViscYTicks, xr:[658,5206], yr:[14.9,86.6], color:GREEN, left:53, top:276, w:243, h:220, dec:0},
  {data:gtexVisc, fit:gtexViscFit, band:gtexViscBand, xt:gtexViscXTicks, yt:gtexViscYTicks, xr:[280,4808], yr:[17.8,35.8], color:GREEN, left:344, top:276, w:243, h:220, dec:1},
  {data:endoxVisc, fit:endoxViscFit, band:endoxViscBand, xt:endoxViscXTicks, yt:endoxViscYTicks, xr:[659,3021], yr:[14.6,42.9], color:GREEN, left:635, top:277, w:243, h:218, dec:0}
];

const grid = [], xAxis = [], yAxis = [], series = [];
panels.forEach((p, i) => {
  grid.push({left:p.left, top:p.top, width:p.w, height:p.h, show:true, borderColor:'#333', borderWidth:1, backgroundColor:'#fff'});
  xAxis.push({
    type:'value', gridIndex:i, min:p.xr[0], max:p.xr[1],
    axisLine:{show:false}, splitLine:{show:false},
    axisTick:{show:true, inside:false, length:4, lineStyle:{color:'#333', width:1}, customValues:p.xt},
    axisLabel:{customValues:p.xt, fontSize:10.5, color:'#1a1a1a', fontFamily:FONT, margin:5, formatter: v => String(v)},
    name: xNames[i] + ' ({i|μm}{s|2})', nameLocation:'middle', nameGap:24,
    nameTextStyle:{fontSize:15, color:'#111', fontFamily:FONT, lineHeight:20,
      rich:{i:{fontSize:15, fontStyle:'italic', fontFamily:FONT, color:'#111', lineHeight:20},
            s:{fontSize:10.5, fontFamily:FONT, color:'#111', lineHeight:11, padding:[0,0,9,1], verticalAlign:'bottom'}}}
  });
  yAxis.push({
    type:'value', gridIndex:i, min:p.yr[0], max:p.yr[1],
    axisLine:{show:false}, splitLine:{show:false},
    axisTick:{show:true, inside:false, length:4, lineStyle:{color:'#333', width:1}, customValues:p.yt},
    axisLabel:{customValues:p.yt, fontSize:10.5, color:'#1a1a1a', fontFamily:FONT, margin:5,
      formatter: v => p.dec ? Number(v).toFixed(1) : String(v)},
    name:'BMI', nameLocation:'middle', nameRotate:90, nameGap: p.dec ? 33 : 26,
    nameTextStyle:{fontSize:15, color:'#111', fontFamily:FONT}
  });
  series.push({
    type:'scatter', xAxisIndex:i, yAxisIndex:i, data:p.data, symbolSize:8.5,
    itemStyle:{color:p.color, opacity:0.8}, z:2, silent:true
  });
  series.push({
    type:'custom', xAxisIndex:i, yAxisIndex:i, data:p.band, z:3, silent:true, clip:true,
    renderItem:(params, api) => {
      if (params.dataIndex !== 0) return;
      const pts = [];
      p.band.forEach(b => pts.push(api.coord([b[0], b[2]])));
      for (let k = p.band.length - 1; k >= 0; k--) pts.push(api.coord([p.band[k][0], p.band[k][1]]));
      return {type:'polygon', shape:{points:pts}, style:{fill:p.color, opacity:0.15}};
    }
  });
  series.push({
    type:'line', xAxisIndex:i, yAxisIndex:i, data:p.fit, symbol:'none', showSymbol:false,
    lineStyle:{color:p.color, width:2.2}, z:4, silent:true
  });
});

const chart = echarts.init(document.getElementById('c'), null, {renderer:'canvas'});
chart.setOption({animation:false, backgroundColor:'#fff', grid, xAxis, yAxis, series});
</script>
</body></html>
